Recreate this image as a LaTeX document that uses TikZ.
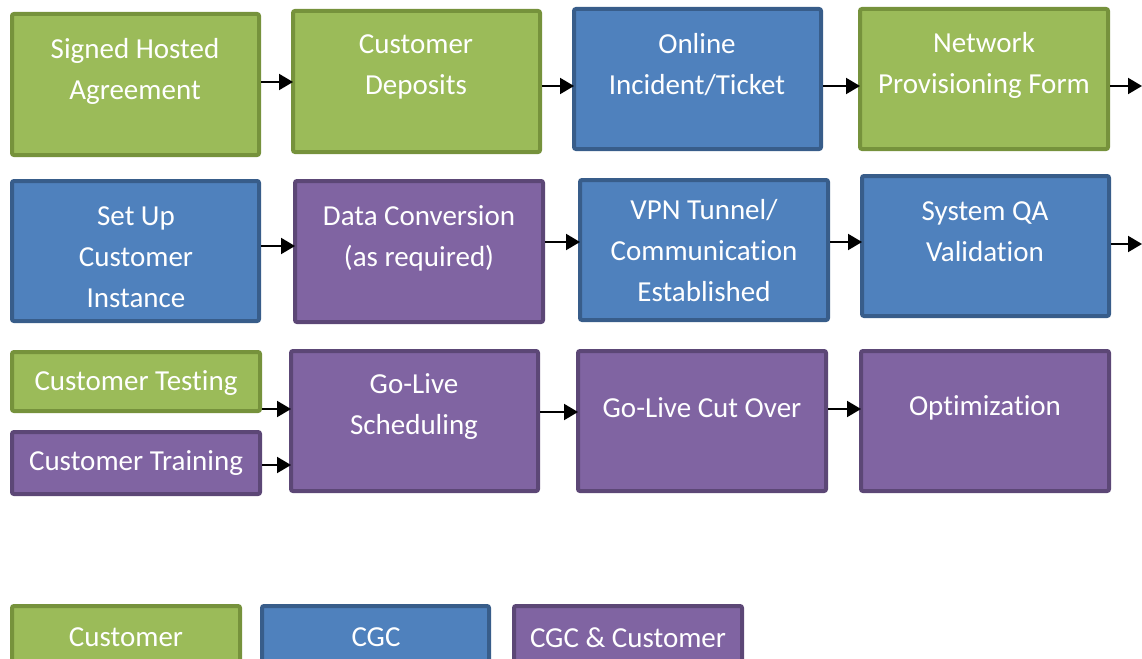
\documentclass[tikz,border=0pt]{standalone}
\usepackage{fontspec}
\setmainfont{Carlito}[Ligatures=NoCommon]
\usetikzlibrary{arrows.meta}
\definecolor{gfill}{HTML}{9BBB59}
\definecolor{gline}{HTML}{76923C}
\definecolor{bfill}{HTML}{4F81BD}
\definecolor{bline}{HTML}{385D8A}
\definecolor{pfill}{HTML}{8064A2}
\definecolor{pline}{HTML}{5C4776}
\tikzset{
  boxbase/.style={draw, line width=4pt, rounded corners=2pt, anchor=north west, inner sep=0pt, outer sep=0pt},
  gbox/.style={boxbase, fill=gfill, draw=gline},
  bbox/.style={boxbase, fill=bfill, draw=bline},
  pbox/.style={boxbase, fill=pfill, draw=pline},
  txt/.style={text=white, align=center, inner sep=0pt, font=\fontsize{29}{41}\selectfont},
  arr/.style={draw=black, line width=2pt, -{Triangle[length=14pt,width=16pt]}, shorten <=2pt}
}
\newcommand{\bx}[6]{\node[#2, minimum width={#5-#3-4}, minimum height={#6-#4-4}] (#1) at ({#3+2},{#4+2}) {};}
\begin{document}
\begin{tikzpicture}[x=1pt,y=-1pt]
\useasboundingbox (0,0) rectangle (1142,658);
\clip (0,0) rectangle (1142,658);
% row 1
\bx{n1}{gbox}{10}{12}{261}{157}
\bx{n2}{gbox}{291}{9}{542}{154}
\bx{n3}{bbox}{572}{7}{823}{151}
\bx{n4}{gbox}{858}{7}{1110}{151}
% row 2
\bx{n5}{bbox}{10}{179}{261}{323}
\bx{n6}{pbox}{293}{179}{545}{324}
\bx{n7}{bbox}{578}{178}{830}{322}
\bx{n8}{bbox}{860}{174}{1111}{318}
% row 3
\bx{n9}{gbox}{10}{350}{262}{413}
\bx{n10}{pbox}{10}{430}{262}{496}
\bx{n11}{pbox}{289}{349}{540}{493}
\bx{n12}{pbox}{576}{349}{828}{493}
\bx{n13}{pbox}{859}{349}{1111}{493}
% legend
\bx{l1}{gbox}{10}{604}{242}{672}
\bx{l2}{bbox}{260}{604}{491}{672}
\bx{l3}{pbox}{512}{604}{744}{672}
% texts
\node[txt] (t1) at (135,71) {Signed Hosted\\Agreement};
\node[txt] (t2) at (416,67) {Customer\\Deposits};
\node[txt] (t3) at (697,65) {Online\\Incident/Ticket};
\node[txt] (t4) at (984,65) {Network\\Provisioning Form};
\node[txt] (t5) at (136,257) {Set Up\\Customer\\Instance};
\node[txt] (t6) at (419,238) {Data Conversion\\(as required)};
\node[txt] (t7) at (704,251) {VPN Tunnel/\\Communication\\Established};
\node[txt] (t8) at (985,232) {System QA\\Validation};
\node[txt] (t9) at (136,383) {Customer Testing};
\node[txt] (t10) at (136,463) {Customer Training};
\node[txt] (t11) at (414,407) {Go-Live\\Scheduling};
\node[txt] (t12) at (702,408) {Go-Live Cut Over};
\node[txt] (t13) at (985,408) {Optimization};
\node[txt] (t14) at (126,637) {Customer};
\node[txt] (t15) at (376,637) {CGC};
\node[txt] (t16) at (628,638) {CGC \& Customer};
% free ends
\coordinate (e1) at (1142,86);
\coordinate (e2) at (1142,244);
% arrows
\draw[arr] (n1.east |- 0,82) -- (n2.west |- 0,82);
\draw[arr] (n2.east |- 0,86) -- (n3.west |- 0,86);
\draw[arr] (n3.east |- 0,86) -- (n4.west |- 0,86);
\draw[arr] (n4.east |- e1) -- (e1);
\draw[arr] (n5.east |- 0,246) -- (n6.west |- 0,246);
\draw[arr] (n6.east |- 0,242) -- (n7.west |- 0,242);
\draw[arr] (n7.east |- 0,242) -- (n8.west |- 0,242);
\draw[arr] (n8.east |- e2) -- (e2);
\draw[arr] (n9.east |- 0,409) -- (n11.west |- 0,409);
\draw[arr] (n10.east |- 0,465) -- (n11.west |- 0,465);
\draw[arr] (n11.east |- 0,412) -- (n12.west |- 0,412);
\draw[arr] (n12.east |- 0,409) -- (n13.west |- 0,409);
\end{tikzpicture}
\end{document}
